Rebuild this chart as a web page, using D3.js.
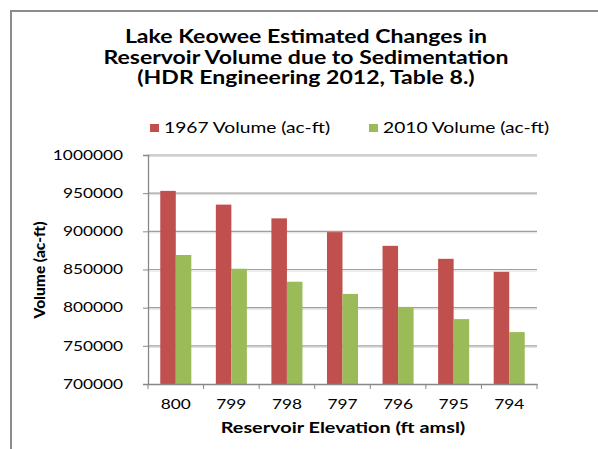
<!DOCTYPE html>
<html>
<head>
<meta charset="utf-8">
<script src="https://cdn.jsdelivr.net/npm/d3@7"></script>
<style>
  body { margin: 0; background: #fff; }
  svg { display: block; }
  text { fill: #000; font-family: Lato, "Open Sans", sans-serif; }
</style>
</head>
<body>
<svg id="chart" width="598" height="449"></svg>
<script>
'use strict';

const elevations = ['800', '799', '798', '797', '796', '795', '794'];
const vol1967 = [953000, 935000, 917000, 899000, 881000, 864000, 847000];
const vol2010 = [869000, 851000, 834000, 818000, 801000, 785000, 768000];
const seriesNames = ['1967 Volume (ac-ft)', '2010 Volume (ac-ft)'];
const seriesColors = ['#c0504d', '#9bbb59'];
const yTicks = [700000, 750000, 800000, 850000, 900000, 950000, 1000000];
const titleLines = [
  'Lake Keowee Estimated Changes in',
  'Reservoir Volume due to Sedimentation',
  '(HDR Engineering 2012, Table 8.)'
];

// the original picture is stretched sideways, so the horizontal text is too
const K = 1.28;
function stretch(sel) {
  sel.each(function() {
    const w = this.getComputedTextLength();
    this.setAttribute('textLength', w * K);
    this.setAttribute('lengthAdjust', 'spacingAndGlyphs');
  });
}

const svg = d3.select('#chart');
const plot = {left: 148, right: 537, top: 155, bottom: 384};

// outer frame, runs past the right and bottom edges
svg.append('path')
  .attr('d', 'M11,449V11H598')
  .attr('fill', 'none')
  .attr('stroke', '#8c8c8c')
  .attr('stroke-width', 2);

svg.append('g')
  .selectAll('text')
  .data(titleLines)
  .enter()
  .append('text')
    .attr('x', 306)
    .attr('y', (d, i) => 43 + i * 20.5)
    .attr('text-anchor', 'middle')
    .style('font-weight', 'bold')
    .style('font-size', '18px')
    .text(d => d)
    .call(stretch);

const x = d3.scaleBand()
  .domain(elevations)
  .range([plot.left, plot.right]);

const xs = d3.scaleBand()
  .domain([0, 1])
  .range([0, x.bandwidth()])
  .paddingInner(0)
  .paddingOuter(0.79);

const y = d3.scaleLinear()
  .domain([700000, 1000000])
  .range([plot.bottom, plot.top]);

// gridlines with a faint shadow under each
const grid = svg.append('g');
yTicks.slice(1).forEach(t => {
  grid.append('line')
    .attr('x1', plot.left).attr('x2', plot.right)
    .attr('y1', y(t) + 1.5).attr('y2', y(t) + 1.5)
    .attr('stroke', '#dcdcdc').attr('stroke-width', 1);
  grid.append('line')
    .attr('x1', plot.left).attr('x2', plot.right)
    .attr('y1', y(t)).attr('y2', y(t))
    .attr('stroke', '#a0a0a0').attr('stroke-width', 1.2);
});

const series = [vol1967, vol2010];
series.forEach((vals, s) => {
  svg.append('g')
    .selectAll('rect')
    .data(vals)
    .enter()
    .append('rect')
      .attr('x', (d, i) => x(elevations[i]) + xs(s))
      .attr('width', xs.bandwidth())
      .attr('y', d => y(d))
      .attr('height', d => y(700000) - y(d))
      .attr('fill', seriesColors[s]);
});

const yAxis = svg.append('g')
  .attr('transform', `translate(${plot.left},0)`)
  .call(d3.axisLeft(y).tickValues(yTicks).tickSize(5).tickPadding(20).tickFormat(d3.format('d')));
yAxis.selectAll('text')
  .style('font-size', '13.5px')
  .style('font-family', 'Lato, sans-serif')
  .attr('fill', '#000')
  .call(stretch);

const xAxis = svg.append('g')
  .attr('transform', `translate(0,${plot.bottom})`)
  .call(d3.axisBottom(x).tickSize(0).tickPadding(15));
xAxis.selectAll('text')
  .style('font-size', '13.5px')
  .style('font-family', 'Lato, sans-serif')
  .attr('fill', '#000')
  .call(stretch);

// category boundary ticks
svg.append('g')
  .selectAll('line')
  .data(elevations.concat(['end']))
  .enter()
  .append('line')
    .attr('x1', (d, i) => plot.left + i * x.step())
    .attr('x2', (d, i) => plot.left + i * x.step())
    .attr('y1', plot.bottom)
    .attr('y2', plot.bottom + 5)
    .attr('stroke', '#888');

svg.selectAll('.domain').attr('stroke', '#888').attr('stroke-width', 1.3);
svg.selectAll('.tick line').attr('stroke', '#888');

svg.append('text')
  .attr('transform', 'translate(45,270) rotate(-90)')
  .attr('text-anchor', 'middle')
  .style('font-weight', '900')
  .style('font-size', '15.5px')
  .text('Volume (ac-ft)');

svg.append('text')
  .attr('x', 343)
  .attr('y', 433)
  .attr('text-anchor', 'middle')
  .style('font-weight', 'bold')
  .style('font-size', '15.5px')
  .text('Reservoir Elevation (ft amsl)')
  .call(stretch);

// legend
const legendX = [150, 369];
const legend = svg.append('g')
  .selectAll('g')
  .data(seriesNames)
  .enter()
  .append('g')
    .attr('transform', (d, i) => `translate(${legendX[i]},128)`);
legend.append('rect')
  .attr('x', 0).attr('y', -4)
  .attr('width', 9).attr('height', 8)
  .attr('fill', (d, i) => seriesColors[i]);
legend.append('text')
  .attr('x', 14)
  .attr('y', 5)
  .style('font-size', '15px')
  .text(d => d)
  .call(stretch);
</script>
</body>
</html>
